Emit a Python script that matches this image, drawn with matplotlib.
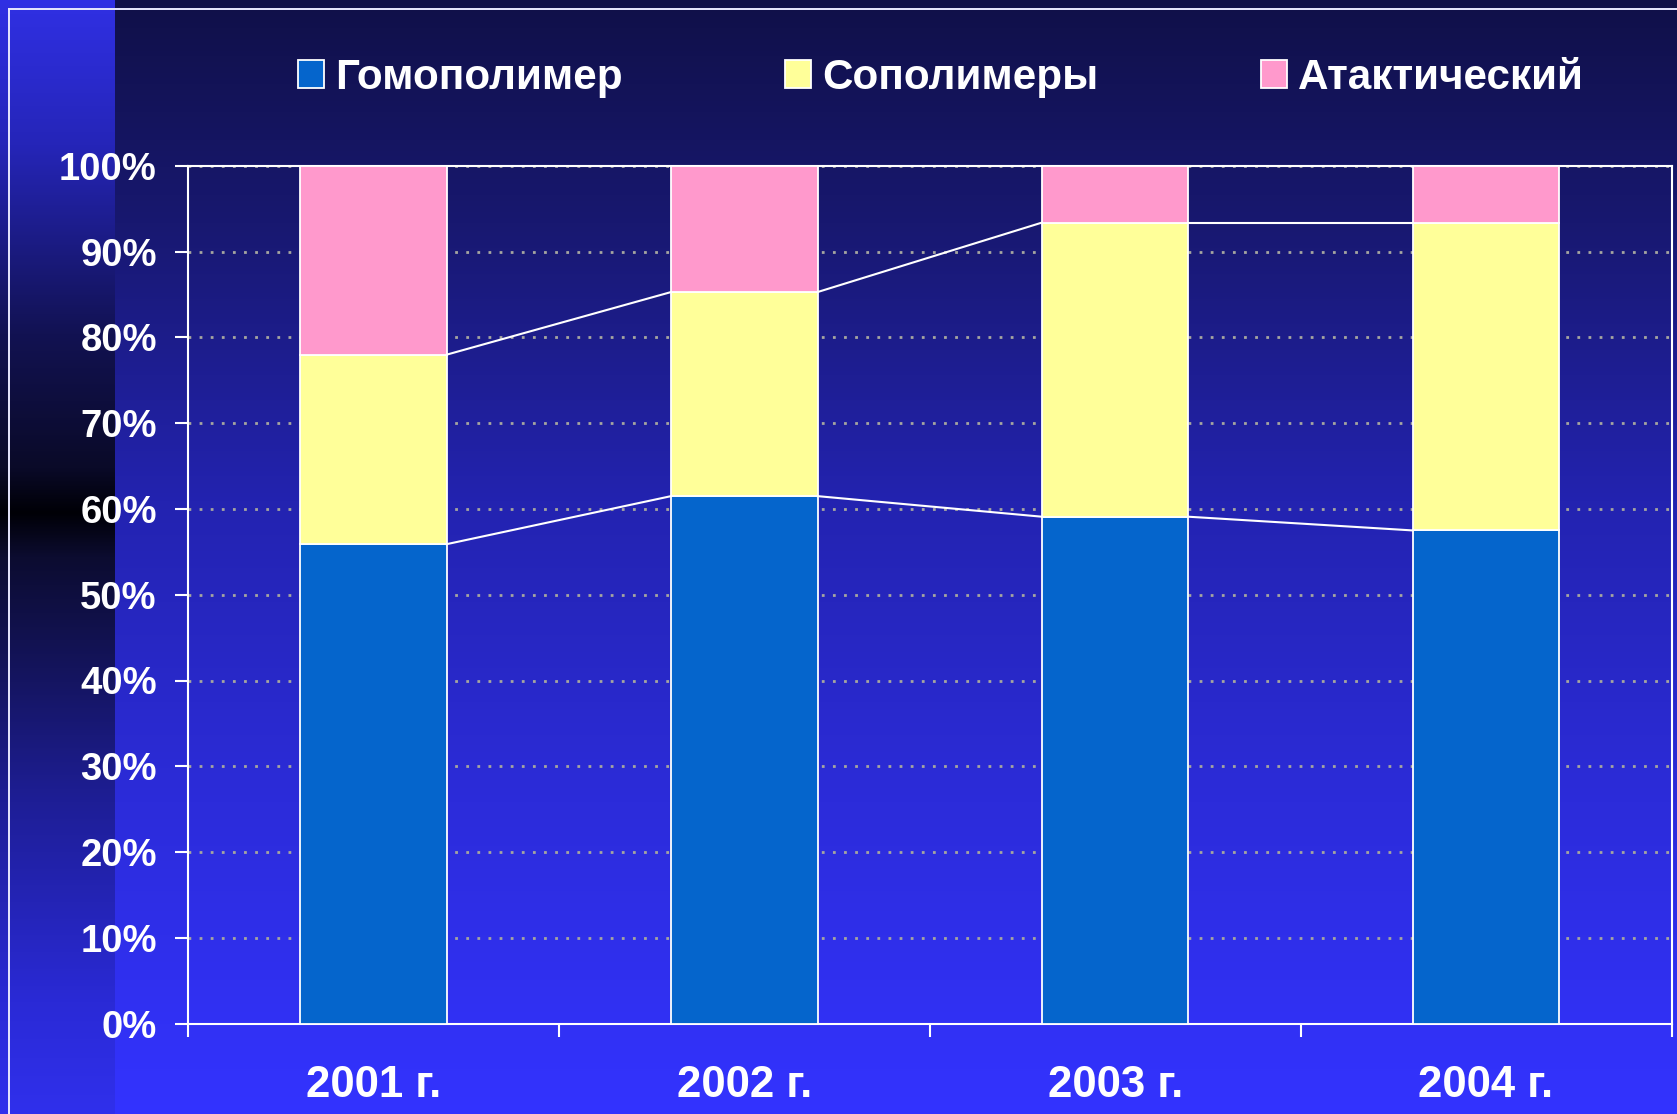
import numpy as np
import matplotlib
matplotlib.use('Agg')
import matplotlib.pyplot as plt
from matplotlib.patches import Patch
from matplotlib.lines import Line2D

# data (percent of total)
years = ['2001 г.', '2002 г.', '2003 г.', '2004 г.']
series_names = ['Гомополимер', 'Сополимеры', 'Атактический']
homopolymer = [55.9, 61.5, 59.1, 57.5]
copolymers = [22.1, 23.8, 34.3, 35.9]
atactic = [22.0, 14.7, 6.6, 6.6]
colors = ['#0565cc', '#ffff99', '#ff99cc']
y_ticks = [0, 10, 20, 30, 40, 50, 60, 70, 80, 90, 100]

W, H = 1677, 1114
plt.rcParams['font.family'] = ['Liberation Sans', 'DejaVu Sans']
fig = plt.figure(figsize=(W / 100, H / 100), dpi=100)

# background: vertical gradient, with a darker strip on the left
bg = fig.add_axes([0, 0, 1, 1], zorder=-10)
bg.set_axis_off()
yy = np.linspace(0, 1, H)
main_stops = [0, 0.2, 0.45, 0.72, 1.0]
main_cols = np.array([[16, 16, 72], [24, 24, 112], [35, 35, 176], [44, 44, 218], [51, 51, 255]]) / 255
strip_stops = [0, 0.13, 0.3, 0.42, 0.46, 0.5, 0.6, 0.72, 0.9, 1.0]
strip_cols = np.array([[48, 48, 228], [37, 37, 184], [18, 18, 82], [10, 10, 40], [0, 0, 6],
                       [12, 12, 48], [20, 20, 92], [30, 30, 150], [42, 42, 214], [48, 48, 236]]) / 255
img = np.zeros((H, W, 3))
for c in range(3):
    img[:, :, c] = np.interp(yy, main_stops, main_cols[:, c])[:, None]
    img[:, :115, c] = np.interp(yy, strip_stops, strip_cols[:, c])[:, None]
bg.imshow(img, extent=[0, 1, 0, 1], aspect='auto')

# thin white frame at top-left
fig.add_artist(Line2D([9 / W, 9 / W], [0, 1 - 9 / H], color='#e8e8ff', lw=1.4))
fig.add_artist(Line2D([9 / W, 1], [1 - 9 / H, 1 - 9 / H], color='#e8e8ff', lw=1.4))

ax = fig.add_axes([188 / W, 1 - 1023.5 / H, (1671.5 - 188) / W, (1023.5 - 166) / H])
ax.set_facecolor('none')

x = np.arange(len(years))
w = 0.395
bottoms = np.zeros(len(years))
levels = []
for vals, col, name in zip([homopolymer, copolymers, atactic], colors, series_names):
    ax.bar(x, vals, w, bottom=bottoms, color=col, edgecolor='white', linewidth=1.3, zorder=3, label=name)
    bottoms = bottoms + np.array(vals)
    levels.append(bottoms.copy())

# series lines between neighbouring bars
for lev in levels[:2]:
    for i in range(len(years) - 1):
        ax.plot([x[i] + w / 2, x[i + 1] - w / 2], [lev[i], lev[i + 1]], color='white', lw=1.5, zorder=4)

ax.set_xlim(-0.5, len(years) - 0.5)
ax.set_ylim(0, 100)
ax.set_yticks(y_ticks)
ax.set_yticklabels([f'{t}%' for t in y_ticks])
ax.yaxis.grid(True, linestyle=(0, (1, 3)), linewidth=2, color='#a6a6a0', zorder=0)
ax.set_axisbelow(True)

ax.set_xticks(np.arange(len(years) + 1) - 0.5)
ax.set_xticklabels([])
ax.set_xticks(x, minor=True)
ax.set_xticklabels(years, minor=True)
ax.tick_params(axis='x', which='major', direction='out', length=9, width=1.5, color='white')
ax.tick_params(axis='x', which='minor', length=0, pad=30, labelsize=31.5, labelcolor='white')
ax.tick_params(axis='y', direction='out', length=9.5, width=1.5, color='white', pad=13,
               labelsize=27.5, labelcolor='white')
for lab in ax.get_xticklabels(minor=True) + ax.get_yticklabels():
    lab.set_fontweight('bold')
for sp in ax.spines.values():
    sp.set_color('white')
    sp.set_linewidth(1.5)

handles = [Patch(facecolor=c, edgecolor='white', linewidth=1.3) for c in colors]
leg = fig.legend(handles, series_names, loc='center left', bbox_to_anchor=(298 / W, 1 - 78 / H),
                 ncol=3, frameon=False, handlelength=0.61, handleheight=0.63, handletextpad=0.27,
                 columnspacing=3.85, borderpad=0, borderaxespad=0,
                 prop={'size': 30.4, 'weight': 'bold'})
for t in leg.get_texts():
    t.set_color('white')

fig.savefig('out.png', dpi=100)
